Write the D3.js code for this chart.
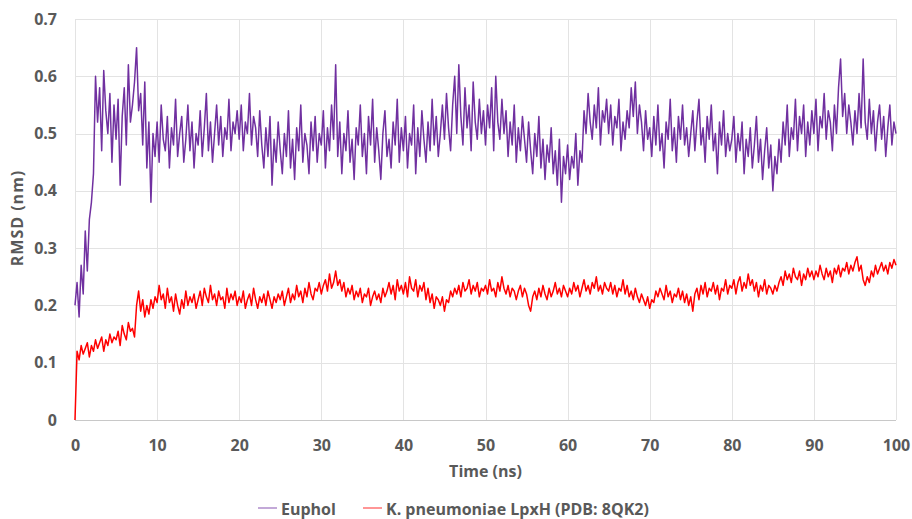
<!DOCTYPE html>
<html>
<head>
<meta charset="utf-8">
<script src="https://cdn.jsdelivr.net/npm/d3@7"></script>
<style>
  body { margin: 0; background: #fff; }
  svg text { font-family: "Open Sans", sans-serif; font-weight: 700; fill: #595959; }
  .grid line { stroke: #e3e3e3; stroke-width: 1; }
</style>
</head>
<body>
<script>
// sampling step of the traces (ns)
var STEP = 0.25;

var xTicks = [0, 10, 20, 30, 40, 50, 60, 70, 80, 90, 100];
var yTicks = [0, 0.1, 0.2, 0.3, 0.4, 0.5, 0.6, 0.7];
var seriesNames = ["Euphol", "K. pneumoniae LpxH (PDB: 8QK2)"];
var seriesColors = ["#7030a0", "#ff0000"];

// RMSD of Euphol (nm), every 0.25 ns (one row = 5 ns)
var euphol = [
  0.20,0.24,0.18,0.27,0.22,0.33,0.26,0.35,0.38,0.43,0.60,0.52,0.58,0.47,0.61,0.54,0.50,0.57,0.45,0.55,
  0.49,0.56,0.41,0.53,0.58,0.48,0.62,0.52,0.55,0.59,0.65,0.54,0.57,0.48,0.59,0.44,0.52,0.38,0.50,0.46,
  0.52,0.45,0.55,0.49,0.47,0.53,0.44,0.51,0.48,0.56,0.46,0.50,0.53,0.45,0.49,0.55,0.47,0.52,0.44,0.50,
  0.48,0.54,0.46,0.51,0.57,0.47,0.52,0.45,0.50,0.55,0.48,0.53,0.46,0.51,0.49,0.56,0.47,0.52,0.50,0.54,
  0.49,0.55,0.47,0.52,0.50,0.57,0.48,0.53,0.51,0.46,0.54,0.48,0.44,0.51,0.46,0.53,0.41,0.49,0.45,0.52,
  0.47,0.43,0.50,0.46,0.54,0.44,0.49,0.42,0.51,0.47,0.55,0.45,0.50,0.48,0.43,0.52,0.47,0.53,0.45,0.50,
  0.48,0.54,0.44,0.51,0.47,0.55,0.49,0.62,0.46,0.52,0.43,0.50,0.47,0.54,0.45,0.49,0.42,0.51,0.48,0.55,
  0.46,0.50,0.43,0.53,0.48,0.56,0.45,0.51,0.47,0.42,0.50,0.54,0.46,0.49,0.44,0.52,0.48,0.56,0.45,0.51,
  0.47,0.53,0.44,0.50,0.48,0.55,0.43,0.51,0.46,0.54,0.49,0.45,0.52,0.47,0.56,0.48,0.53,0.46,0.50,0.55,
  0.49,0.57,0.51,0.47,0.55,0.60,0.50,0.62,0.53,0.48,0.58,0.51,0.55,0.47,0.59,0.52,0.49,0.56,0.50,0.54,
  0.48,0.55,0.51,0.58,0.47,0.60,0.52,0.49,0.56,0.50,0.54,0.46,0.52,0.48,0.55,0.45,0.51,0.47,0.53,0.49,
  0.45,0.52,0.47,0.43,0.50,0.46,0.53,0.44,0.49,0.42,0.48,0.45,0.51,0.43,0.47,0.41,0.49,0.38,0.46,0.43,
  0.48,0.42,0.46,0.44,0.50,0.41,0.47,0.45,0.54,0.50,0.57,0.52,0.49,0.55,0.51,0.58,0.48,0.54,0.52,0.56,
  0.50,0.55,0.48,0.53,0.51,0.56,0.47,0.52,0.49,0.54,0.51,0.58,0.53,0.59,0.50,0.55,0.52,0.47,0.54,0.49,
  0.51,0.46,0.53,0.48,0.55,0.47,0.50,0.44,0.52,0.49,0.56,0.47,0.51,0.45,0.53,0.49,0.55,0.48,0.51,0.46,
  0.50,0.54,0.47,0.52,0.56,0.48,0.51,0.45,0.53,0.49,0.55,0.47,0.50,0.43,0.52,0.48,0.54,0.46,0.50,0.47,
  0.49,0.53,0.45,0.50,0.47,0.52,0.43,0.49,0.46,0.51,0.44,0.48,0.53,0.45,0.49,0.42,0.47,0.51,0.44,0.48,
  0.40,0.46,0.43,0.49,0.45,0.52,0.48,0.55,0.46,0.51,0.49,0.56,0.47,0.53,0.50,0.55,0.46,0.52,0.48,0.54,
  0.50,0.56,0.47,0.53,0.51,0.57,0.49,0.54,0.52,0.47,0.55,0.50,0.58,0.63,0.53,0.57,0.50,0.55,0.52,0.48,
  0.54,0.50,0.57,0.51,0.63,0.52,0.49,0.56,0.50,0.54,0.47,0.52,0.55,0.49,0.53,0.46,0.51,0.55,0.48,0.52,
  0.50
];

// RMSD of K. pneumoniae LpxH (nm), same sampling
var lpxh = [
  0.00,0.12,0.105,0.13,0.115,0.125,0.135,0.11,0.13,0.12,0.14,0.125,0.135,0.145,0.12,0.14,0.13,0.15,0.135,0.145,
  0.14,0.155,0.13,0.165,0.15,0.14,0.17,0.155,0.16,0.145,0.20,0.225,0.19,0.21,0.18,0.20,0.185,0.21,0.195,0.215,
  0.205,0.235,0.21,0.22,0.195,0.23,0.205,0.215,0.19,0.22,0.20,0.185,0.21,0.195,0.225,0.20,0.215,0.205,0.22,0.195,
  0.21,0.225,0.20,0.23,0.215,0.205,0.235,0.21,0.22,0.20,0.225,0.21,0.215,0.195,0.23,0.205,0.22,0.21,0.225,0.20,
  0.215,0.205,0.225,0.195,0.21,0.22,0.20,0.23,0.21,0.195,0.215,0.205,0.22,0.20,0.225,0.21,0.195,0.215,0.205,0.22,
  0.21,0.225,0.20,0.215,0.23,0.205,0.22,0.21,0.235,0.215,0.225,0.205,0.23,0.215,0.24,0.22,0.21,0.23,0.225,0.24,
  0.22,0.235,0.245,0.225,0.255,0.23,0.24,0.26,0.235,0.245,0.225,0.24,0.215,0.23,0.22,0.235,0.21,0.225,0.215,0.23,
  0.205,0.22,0.215,0.23,0.20,0.215,0.225,0.21,0.22,0.205,0.23,0.215,0.225,0.24,0.22,0.235,0.21,0.245,0.225,0.235,
  0.22,0.24,0.215,0.25,0.23,0.225,0.245,0.215,0.235,0.225,0.24,0.21,0.23,0.205,0.22,0.195,0.215,0.21,0.20,0.215,
  0.19,0.21,0.205,0.225,0.215,0.23,0.22,0.235,0.215,0.24,0.225,0.23,0.245,0.22,0.235,0.225,0.24,0.215,0.23,0.225,
  0.235,0.22,0.245,0.225,0.23,0.215,0.24,0.225,0.25,0.23,0.22,0.235,0.215,0.23,0.225,0.21,0.225,0.235,0.215,0.23,
  0.22,0.20,0.19,0.215,0.225,0.21,0.23,0.215,0.235,0.22,0.21,0.23,0.215,0.225,0.24,0.22,0.23,0.215,0.235,0.225,
  0.215,0.23,0.22,0.24,0.225,0.235,0.215,0.23,0.245,0.225,0.235,0.22,0.24,0.23,0.25,0.225,0.235,0.22,0.24,0.23,
  0.225,0.24,0.22,0.235,0.215,0.23,0.225,0.245,0.22,0.235,0.215,0.225,0.21,0.23,0.215,0.205,0.22,0.21,0.20,0.215,
  0.195,0.21,0.205,0.225,0.215,0.23,0.22,0.21,0.235,0.215,0.225,0.205,0.22,0.215,0.23,0.21,0.225,0.205,0.22,0.20,
  0.215,0.19,0.22,0.23,0.21,0.235,0.22,0.24,0.215,0.23,0.225,0.24,0.22,0.235,0.21,0.23,0.225,0.245,0.22,0.235,
  0.23,0.245,0.22,0.24,0.25,0.225,0.24,0.23,0.255,0.235,0.245,0.225,0.24,0.215,0.235,0.225,0.245,0.22,0.235,0.23,
  0.22,0.235,0.225,0.24,0.25,0.235,0.26,0.245,0.255,0.24,0.265,0.25,0.245,0.26,0.235,0.255,0.245,0.265,0.25,0.26,
  0.245,0.26,0.25,0.27,0.255,0.245,0.265,0.25,0.26,0.24,0.265,0.255,0.27,0.25,0.265,0.26,0.275,0.255,0.27,0.26,
  0.275,0.285,0.26,0.27,0.245,0.235,0.25,0.24,0.26,0.25,0.27,0.255,0.265,0.275,0.26,0.27,0.255,0.275,0.265,0.28,
  0.27
];

var width = 912, height = 519;
var margin = { left: 75, right: 16, top: 19, bottom: 99 };

var svg = d3.select("body").append("svg")
  .attr("width", width)
  .attr("height", height);

var x = d3.scaleLinear().domain([0, 100]).range([margin.left, width - margin.right]);
var y = d3.scaleLinear().domain([0, 0.7]).range([height - margin.bottom, margin.top]);

// grid
var grid = svg.append("g").attr("class", "grid");
grid.selectAll(".vg").data(xTicks).enter().append("line")
  .attr("x1", function (d) { return Math.round(x(d)) + 0.5; })
  .attr("x2", function (d) { return Math.round(x(d)) + 0.5; })
  .attr("y1", y(0.7)).attr("y2", y(0));
grid.selectAll(".hg").data(yTicks).enter().append("line")
  .attr("y1", function (d) { return Math.round(y(d)) + 0.5; })
  .attr("y2", function (d) { return Math.round(y(d)) + 0.5; })
  .attr("x1", x(0)).attr("x2", x(100));

// bottom axis line
svg.append("line")
  .attr("x1", x(0)).attr("x2", x(100))
  .attr("y1", Math.round(y(0)) + 0.5).attr("y2", Math.round(y(0)) + 0.5)
  .attr("stroke", "#c8c8c8");

var xAxis = svg.append("g")
  .attr("transform", "translate(0," + y(0) + ")")
  .call(d3.axisBottom(x).tickValues(xTicks).tickSize(0).tickPadding(20).tickFormat(d3.format("d")));
xAxis.select(".domain").remove();
xAxis.selectAll("text").style("font-size", "16px");

var yAxis = svg.append("g")
  .attr("transform", "translate(" + x(0) + ",0)")
  .call(d3.axisLeft(y).tickValues(yTicks).tickSize(0).tickPadding(18)
    .tickFormat(function (d) { return d === 0 ? "0" : d3.format(".1f")(d); }));
yAxis.select(".domain").remove();
yAxis.selectAll("text").style("font-size", "16px");

// axis titles
svg.append("text")
  .attr("x", (x(0) + x(100)) / 2)
  .attr("y", 477)
  .attr("text-anchor", "middle")
  .style("font-size", "16px")
  .text("Time (ns)");

svg.append("text")
  .attr("transform", "translate(23,218) rotate(-90)")
  .attr("text-anchor", "middle")
  .style("font-size", "16px")
  .style("letter-spacing", "1px")
  .text("RMSD (nm)");

// traces
var line = d3.line()
  .x(function (d, i) { return x(i * STEP); })
  .y(function (d) { return y(d); });

svg.append("path")
  .datum(lpxh)
  .attr("fill", "none")
  .attr("stroke", seriesColors[1])
  .attr("stroke-width", 1.5)
  .attr("stroke-linejoin", "round")
  .attr("d", line);

svg.append("path")
  .datum(euphol)
  .attr("fill", "none")
  .attr("stroke", seriesColors[0])
  .attr("stroke-width", 1.5)
  .attr("stroke-linejoin", "round")
  .attr("d", line);

// legend
var legendX = [258, 363];
var legend = svg.append("g").selectAll("g").data(seriesNames).enter().append("g")
  .attr("transform", function (d, i) { return "translate(" + legendX[i] + ",509)"; });
legend.append("line")
  .attr("x1", 0).attr("x2", 19)
  .attr("y1", -1).attr("y2", -1)
  .attr("stroke", function (d, i) { return seriesColors[i]; })
  .attr("stroke-opacity", 0.55)
  .attr("stroke-width", 1.5);
legend.append("text")
  .attr("x", 23).attr("dy", "0.35em")
  .style("font-size", "16px")
  .text(function (d) { return d; });
</script>
</body>
</html>
